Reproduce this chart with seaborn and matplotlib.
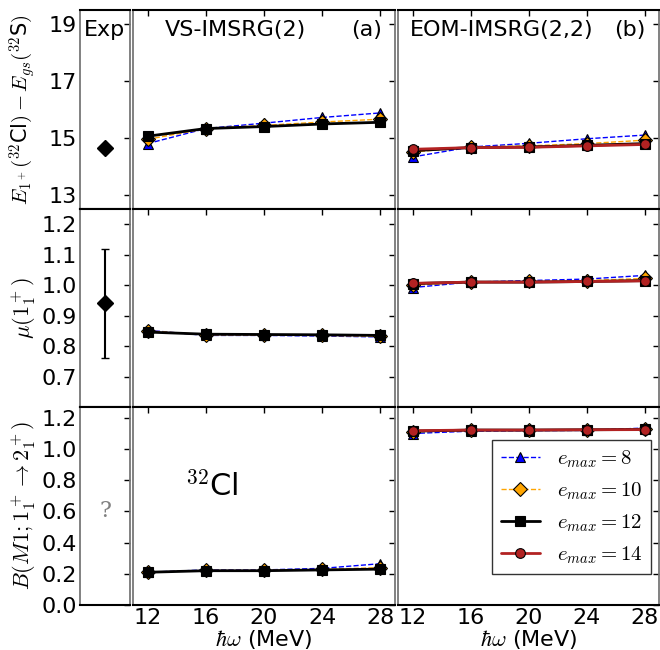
from matplotlib import pyplot as plt
import pandas as pd
import seaborn as sns

hw = [12, 16, 20, 24, 28]
emax = [8, 10, 12, 14]

# excitation energy E(1+) of 32Cl relative to 32S ground state
vs_energy = {
    8: [14.80, 15.33, 15.52, 15.72, 15.88],
    10: [14.95, 15.33, 15.44, 15.56, 15.66],
    12: [15.06, 15.33, 15.40, 15.49, 15.55],
}
eom_energy = {
    8: [14.33, 14.68, 14.81, 14.97, 15.10],
    10: [14.50, 14.68, 14.72, 14.80, 14.92],
    12: [14.55, 14.66, 14.68, 14.74, 14.80],
    14: [14.60, 14.66, 14.67, 14.72, 14.77],
}
# magnetic moment
vs_mu = {
    8: [0.852, 0.835, 0.835, 0.833, 0.830],
    10: [0.850, 0.837, 0.836, 0.835, 0.832],
    12: [0.846, 0.839, 0.838, 0.837, 0.835],
}
eom_mu = {
    8: [0.992, 1.010, 1.015, 1.020, 1.032],
    10: [1.000, 1.010, 1.012, 1.015, 1.022],
    12: [1.005, 1.010, 1.010, 1.012, 1.015],
    14: [1.006, 1.010, 1.010, 1.012, 1.014],
}
# B(M1; 1+ -> 2+)
vs_bm1 = {
    8: [0.21, 0.225, 0.225, 0.235, 0.265],
    10: [0.21, 0.222, 0.222, 0.228, 0.240],
    12: [0.21, 0.220, 0.220, 0.225, 0.230],
}
eom_bm1 = {
    8: [1.100, 1.115, 1.118, 1.120, 1.135],
    10: [1.110, 1.120, 1.120, 1.122, 1.128],
    12: [1.115, 1.122, 1.122, 1.124, 1.126],
    14: [1.118, 1.122, 1.122, 1.124, 1.125],
}

exp_energy = 14.65
exp_mu = 0.94
exp_mu_err = 0.18

styles = {
    8: dict(color="blue", marker="^", linestyle="--", linewidth=1.0),
    10: dict(color="orange", marker="D", linestyle="--", linewidth=1.0),
    12: dict(color="black", marker="s", linestyle="-", linewidth=2.0),
    14: dict(color="firebrick", marker="o", linestyle="-", linewidth=2.0),
}

sns.set_style("white")
plt.rcParams["font.family"] = ["DejaVu Sans"]
plt.rcParams["mathtext.fontset"] = "cm"
plt.rcParams["xtick.direction"] = "in"
plt.rcParams["ytick.direction"] = "in"
plt.rcParams["text.color"] = "black"
plt.rcParams["axes.labelcolor"] = "black"
plt.rcParams["xtick.color"] = "black"
plt.rcParams["ytick.color"] = "black"

fig = plt.figure(figsize=(6.6, 6.5), dpi=100)

W, H = 660.0, 650.0
cols = [(80, 130), (133, 395), (398, 659)]
rows = [(10, 209), (209, 407), (407, 605)]
ylims = [(12.5, 19.5), (0.6, 1.25), (0.0, 1.27)]
yticks = [[13, 15, 17, 19], [0.7, 0.8, 0.9, 1.0, 1.1, 1.2],
          [0.0, 0.2, 0.4, 0.6, 0.8, 1.0, 1.2]]
ylabels = [r"$E_{1^+}(^{32}$Cl$)-E_{gs}(^{32}$S$)$",
           r"$\mu(1^+_1)$",
           r"$B(M1;1^+_1\rightarrow 2^+_1)$"]
ylabel_sizes = [15, 16, 16]

axes = {}
for r, (y0, y1) in enumerate(rows):
    for c, (x0, x1) in enumerate(cols):
        ax = fig.add_axes([x0 / W, 1 - y1 / H, (x1 - x0) / W, (y1 - y0) / H])
        ax.set_ylim(*ylims[r])
        ax.set_yticks(yticks[r])
        ax.tick_params(which="both", top=True, right=True, length=4,
                       width=1, labelsize=16, pad=2)
        for side in ["left", "right"]:
            ax.spines[side].set_color("#777777")
            ax.spines[side].set_linewidth(1.3)
        for side in ["top", "bottom"]:
            ax.spines[side].set_color("black")
            ax.spines[side].set_linewidth(1.5)
        if c == 0:
            ax.set_xlim(0, 1)
            ax.set_xticks([])
            ax.set_ylabel(ylabels[r], fontsize=ylabel_sizes[r])
            ax.yaxis.set_label_coords(-0.84, 0.5)
        else:
            ax.set_xlim(11, 29)
            ax.set_xticks(hw)
            ax.set_yticklabels([])
            if r < 2:
                ax.set_xticklabels([])
            else:
                ax.set_xlabel(r"$\hbar\omega$ (MeV)", fontsize=16, labelpad=0)
        axes[(r, c)] = ax

panels = [
    (0, 1, vs_energy), (0, 2, eom_energy),
    (1, 1, vs_mu), (1, 2, eom_mu),
    (2, 1, vs_bm1), (2, 2, eom_bm1),
]
for r, c, data in panels:
    ax = axes[(r, c)]
    for e in emax:
        if e not in data:
            continue
        st = styles[e]
        sns.lineplot(x=hw, y=data[e], ax=ax, color=st["color"],
                     linestyle=st["linestyle"], linewidth=st["linewidth"],
                     marker=st["marker"], markersize=7, markerfacecolor=st["color"],
                     markeredgecolor="black", markeredgewidth=0.8,
                     label=rf"$e_{{max}} = {e}$", legend=False)

# experiment column
axes[(0, 0)].plot([0.5], [exp_energy], marker="D", color="black", markersize=8)
axes[(1, 0)].errorbar([0.5], [exp_mu], yerr=[exp_mu_err], fmt="D", color="black",
                      markersize=8, elinewidth=1.5, capsize=3)
axes[(2, 0)].text(0.5, 0.6, "?", ha="center", va="center", fontsize=16,
                  color="gray", family="serif")

# panel titles
axes[(0, 0)].text(0.5, 0.95, "Exp", transform=axes[(0, 0)].transAxes,
                  ha="center", va="top", fontsize=16)
axes[(0, 1)].text(0.12, 0.95, "VS-IMSRG(2)", transform=axes[(0, 1)].transAxes,
                  ha="left", va="top", fontsize=16)
axes[(0, 1)].text(0.95, 0.95, "(a)", transform=axes[(0, 1)].transAxes,
                  ha="right", va="top", fontsize=16)
axes[(0, 2)].text(0.045, 0.95, "EOM-IMSRG(2,2)", transform=axes[(0, 2)].transAxes,
                  ha="left", va="top", fontsize=16)
axes[(0, 2)].text(0.95, 0.95, "(b)", transform=axes[(0, 2)].transAxes,
                  ha="right", va="top", fontsize=16)
axes[(2, 1)].text(0.2, 0.6, r"$^{32}$Cl", transform=axes[(2, 1)].transAxes,
                  ha="left", va="center", fontsize=22)

handles, labels = axes[(2, 2)].get_legend_handles_labels()
leg = axes[(2, 2)].legend(handles, labels, loc="lower right",
                          bbox_to_anchor=(0.969, 0.157), fontsize=15,
                          frameon=True, fancybox=False, edgecolor="black",
                          handlelength=1.9, handletextpad=0.8, borderpad=0.4,
                          labelspacing=0.5, borderaxespad=0)
leg.get_frame().set_linewidth(1.0)

fig.savefig("out.png", dpi=100)
